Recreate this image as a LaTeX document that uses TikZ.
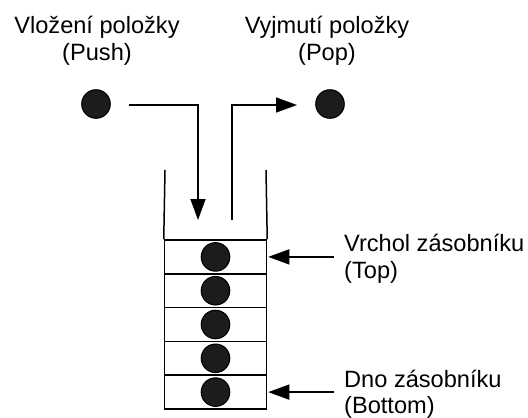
\documentclass[tikz,border=0pt]{standalone}
\usepackage{fontspec}
\setmainfont{Liberation Sans}
\usetikzlibrary{arrows.meta}
\definecolor{ballfill}{HTML}{1C1C1C}
\tikzset{
  ball/.style={circle, draw=black, line width=1.1pt, fill=ballfill, minimum size=28.5pt, inner sep=0pt},
  cell/.style={rectangle, draw=black, line width=1.5pt, minimum width=102pt, minimum height=33.8pt, inner sep=0pt},
  conn/.style={line width=1.5pt, -{Triangle[length=21pt,width=15pt]}},
  wall/.style={line width=1.5pt},
  lbl/.style={font=\fontsize{23.6}{27}\selectfont, inner sep=0pt},
}
\begin{document}
\begin{tikzpicture}[x=1pt,y=-1pt]
\useasboundingbox (0,0) rectangle (528,418);
% top labels
\node[lbl, anchor=base] (pushA) at (97,33) {Vložení položky};
\node[lbl, anchor=base] (pushB) at (97,60) {(Push)};
\node[lbl, anchor=base] (popA) at (327,33) {Vyjmutí položky};
\node[lbl, anchor=base] (popB) at (327,60) {(Pop)};
% balls at top
\node[ball] (ballL) at (96,104) {};
\node[ball] (ballR) at (330,104) {};
% stack walls
\coordinate (wlt) at (165,170);
\coordinate (wrt) at (266,170);
% cells
\foreach \i in {1,...,5}{
  \node[cell] (c\i) at (215.5,{240+16.9+(\i-1)*33.8}) {};
  \node[ball] (b\i) at (c\i.center) {};
}
\draw[wall] (wlt) -- (c1.north west);
\draw[wall] (wrt) -- (c1.north east);
% push / pop connectors
\coordinate (pushS) at (129,105);
\coordinate (pushE) at (198,220);
\coordinate (popS) at (232,220);
\coordinate (popE) at (297,105);
\draw[conn] (pushS) -| (pushE);
\draw[conn] (popS) |- (popE);
% side arrows
\coordinate (topS) at (334,0 |- c1.east);
\coordinate (botS) at (334,0 |- c5.east);
\draw[conn] (topS) -- ([xshift=1pt]c1.east);
\draw[conn] (botS) -- ([xshift=1pt]c5.east);
% side labels
\node[lbl, anchor=base west] (topA) at (344,251) {Vrchol zásobníku};
\node[lbl, anchor=base west] (topB) at (344,278) {(Top)};
\node[lbl, anchor=base west] (botA) at (344,387) {Dno zásobníku};
\node[lbl, anchor=base west] (botB) at (344,413) {(Bottom)};
\end{tikzpicture}
\end{document}
